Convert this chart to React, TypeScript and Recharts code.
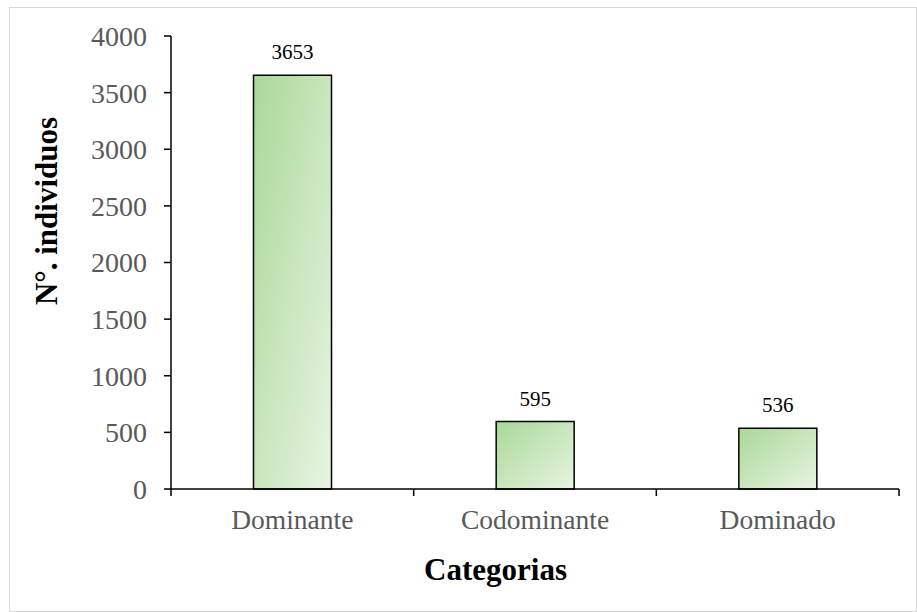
import { BarChart, Bar, XAxis, YAxis, LabelList, Label } from "recharts";

const categories = ["Dominante", "Codominante", "Dominado"];
const individuos = [3653, 595, 536];
const yTicks = [0, 500, 1000, 1500, 2000, 2500, 3000, 3500, 4000];

const data = categories.map((categoria, i) => ({
  categoria,
  individuos: individuos[i],
}));

const FONT = '"Liberation Serif", "Times New Roman", serif';

// category ticks: lines at the band edges, label at the centre
function CategoryTick(props: any) {
  const { x, y, payload, index, visibleTicksCount } = props;
  const half = payload.offset ?? 0;
  return (
    <g>
      <line x1={x - half} x2={x - half} y1={y} y2={y + 7} stroke="#000" strokeWidth={1.5} />
      {index === visibleTicksCount - 1 && (
        <line x1={x + half} x2={x + half} y1={y} y2={y + 7} stroke="#000" strokeWidth={1.5} />
      )}
      <text x={x} y={y + 40} textAnchor="middle" fill="#595959" fontSize={27.5} fontFamily={FONT}>
        {payload.value}
      </text>
    </g>
  );
}

export default function App() {
  return (
    <div
      style={{
        position: "absolute",
        left: 9,
        top: 7,
        width: 908,
        height: 605,
        border: "1px solid #d9d9d9",
        boxSizing: "border-box",
        background: "#fff",
      }}
    >
      <BarChart
        width={906}
        height={603}
        data={data}
        margin={{ top: 28, right: 17, left: 0, bottom: 0 }}
        barCategoryGap="34%"
      >
        <defs>
          <linearGradient id="barGrad" x1="0" y1="0" x2="1" y2="1">
            <stop offset="0%" stopColor="#a9d897" />
            <stop offset="100%" stopColor="#e8f4e3" />
          </linearGradient>
        </defs>
        <XAxis
          dataKey="categoria"
          height={122}
          tickLine={false}
          tickSize={0}
          tickMargin={0}
          axisLine={{ stroke: "#000", strokeWidth: 1.5 }}
          tick={<CategoryTick />}
          interval={0}
        >
          <Label
            content={() => (
              <text x={485.5} y={572} textAnchor="middle" fontSize={31} fontWeight="bold" fontFamily={FONT} fill="#000">
                Categorias
              </text>
            )}
          />
        </XAxis>
        <YAxis
          width={161}
          domain={[0, 4000]}
          ticks={yTicks}
          interval={0}
          tickSize={7}
          tickMargin={17}
          axisLine={{ stroke: "#000", strokeWidth: 1.5 }}
          tickLine={{ stroke: "#000", strokeWidth: 1.5 }}
          tick={{ fill: "#595959", fontSize: 28, fontFamily: FONT }}
        >
          <Label
            content={() => (
              <text
                x={47}
                y={203}
                transform="rotate(-90, 47, 203)"
                textAnchor="middle"
                fontSize={31}
                fontWeight="bold"
                fontFamily={FONT}
                fill="#000"
              >
                N°. individuos
              </text>
            )}
          />
        </YAxis>
        <Bar
          dataKey="individuos"
          fill="url(#barGrad)"
          stroke="#000"
          strokeWidth={1.5}
          isAnimationActive={false}
        >
          <LabelList
            dataKey="individuos"
            position="top"
            offset={16}
            fill="#000"
            fontSize={21}
            fontFamily={FONT}
          />
        </Bar>
      </BarChart>
    </div>
  );
}
